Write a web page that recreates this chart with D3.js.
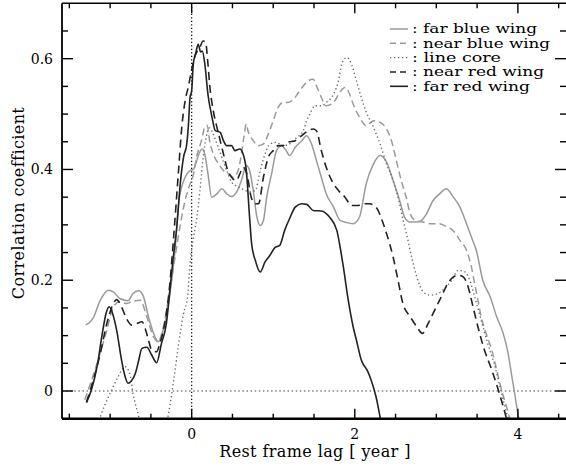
<!DOCTYPE html>
<html><head><meta charset="utf-8">
<script src="https://cdn.jsdelivr.net/npm/d3@7"></script>
<style>body{margin:0;background:#fff}svg{display:block}</style>
</head><body>
<script>
// ---- data ----
const farBlueLag = [-1.30,-1.21,-1.12,-1.02,-0.96,-0.88,-0.78,-0.72,-0.65,-0.59,-0.53,-0.45,-0.41,-0.35,-0.31,-0.245,-0.20,-0.16,-0.08,-0.02,0.02,0.06,0.10,0.13,0.16,0.20,0.245,0.31,0.37,0.43,0.49,0.55,0.61,0.67,0.71,0.755,0.80,0.84,0.88,0.92,0.98,1.04,1.10,1.16,1.20,1.27,1.35,1.41,1.47,1.53,1.59,1.65,1.74,1.82,1.90,1.98,2.06,2.14,2.23,2.31,2.39,2.47,2.55,2.61,2.68,2.76,2.82,2.88,2.96,3.04,3.12,3.21,3.29,3.37,3.43,3.49,3.57,3.66,3.74,3.82,3.88,3.92,3.96,4.00,4.02];
const farBlueR   = [0.119,0.131,0.164,0.182,0.179,0.167,0.163,0.176,0.181,0.170,0.134,0.098,0.089,0.110,0.134,0.200,0.260,0.340,0.386,0.398,0.400,0.415,0.432,0.437,0.428,0.392,0.350,0.356,0.365,0.356,0.351,0.359,0.380,0.407,0.398,0.362,0.314,0.299,0.308,0.350,0.392,0.434,0.443,0.434,0.425,0.440,0.452,0.461,0.446,0.416,0.386,0.356,0.332,0.308,0.304,0.302,0.315,0.374,0.410,0.425,0.413,0.380,0.344,0.314,0.305,0.305,0.308,0.320,0.344,0.356,0.365,0.350,0.332,0.302,0.278,0.254,0.200,0.170,0.134,0.104,0.068,0.032,-0.004,-0.040,-0.055];

const nearBlueLag = [-1.31,-1.16,-1.04,-0.96,-0.88,-0.80,-0.74,-0.63,-0.55,-0.47,-0.41,-0.33,-0.27,-0.20,-0.14,-0.08,-0.02,0.02,0.06,0.12,0.16,0.19,0.22,0.265,0.33,0.39,0.45,0.51,0.57,0.61,0.64,0.67,0.69,0.755,0.82,0.88,0.94,1.00,1.06,1.12,1.18,1.25,1.31,1.37,1.43,1.49,1.53,1.59,1.65,1.74,1.82,1.88,1.94,1.98,2.06,2.14,2.23,2.31,2.39,2.45,2.51,2.57,2.63,2.68,2.74,2.84,2.94,3.04,3.12,3.21,3.29,3.37,3.43,3.47,3.51,3.55,3.61,3.68,3.74,3.80,3.86,3.91];
const nearBlueR   = [-0.016,0.050,0.110,0.152,0.161,0.158,0.161,0.164,0.134,0.098,0.089,0.128,0.180,0.245,0.300,0.344,0.374,0.390,0.422,0.452,0.476,0.480,0.452,0.428,0.410,0.398,0.392,0.386,0.398,0.428,0.458,0.482,0.470,0.452,0.443,0.446,0.464,0.488,0.512,0.521,0.521,0.527,0.539,0.551,0.560,0.563,0.551,0.530,0.515,0.521,0.540,0.548,0.535,0.518,0.494,0.479,0.488,0.485,0.473,0.452,0.416,0.380,0.350,0.320,0.308,0.305,0.302,0.302,0.297,0.289,0.272,0.254,0.224,0.194,0.164,0.134,0.104,0.074,0.038,0.002,-0.028,-0.055];

const coreLag = [-1.20,-1.12,-1.00,-0.90,-0.82,-0.76,-0.72,-0.65,-0.60,-0.45,-0.34,-0.29,-0.22,-0.16,-0.10,-0.05,-0.02,0.02,0.06,0.10,0.14,0.18,0.22,0.26,0.31,0.37,0.43,0.49,0.55,0.62,0.70,0.78,0.84,0.90,0.96,1.04,1.12,1.20,1.29,1.37,1.41,1.45,1.51,1.59,1.65,1.74,1.80,1.84,1.90,1.96,2.02,2.08,2.14,2.23,2.31,2.39,2.47,2.54,2.59,2.64,2.70,2.76,2.84,2.92,3.02,3.10,3.19,3.27,3.35,3.41,3.47,3.55,3.63,3.72,3.78,3.84,3.89];
const coreR   = [-0.080,-0.046,-0.004,0.026,0.044,0.032,-0.004,-0.046,-0.080,-0.150,-0.080,-0.046,0.020,0.085,0.140,0.170,0.230,0.275,0.310,0.360,0.420,0.460,0.475,0.465,0.446,0.422,0.398,0.377,0.370,0.365,0.360,0.362,0.398,0.428,0.446,0.449,0.443,0.446,0.458,0.470,0.488,0.500,0.515,0.515,0.521,0.536,0.560,0.590,0.602,0.590,0.560,0.530,0.504,0.476,0.446,0.410,0.380,0.344,0.310,0.280,0.240,0.206,0.179,0.173,0.176,0.185,0.200,0.218,0.215,0.200,0.170,0.128,0.086,0.044,0.008,-0.028,-0.055];

const nearRedLag = [-1.29,-1.23,-1.12,-1.04,-0.96,-0.92,-0.86,-0.80,-0.735,-0.67,-0.61,-0.57,-0.53,-0.49,-0.43,-0.39,-0.33,-0.27,-0.22,-0.16,-0.12,-0.08,-0.04,0.00,0.04,0.10,0.14,0.17,0.20,0.22,0.265,0.31,0.35,0.39,0.43,0.49,0.55,0.59,0.63,0.68,0.73,0.78,0.82,0.88,0.94,1.00,1.06,1.12,1.18,1.27,1.35,1.43,1.49,1.53,1.59,1.65,1.74,1.80,1.88,1.96,2.04,2.10,2.18,2.27,2.33,2.39,2.47,2.53,2.59,2.68,2.76,2.83,2.90,2.98,3.06,3.14,3.21,3.27,3.33,3.39,3.45,3.51,3.59,3.68,3.76,3.82,3.87];
const nearRedR   = [-0.020,0.008,0.068,0.122,0.158,0.165,0.152,0.131,0.119,0.122,0.125,0.113,0.092,0.074,0.071,0.086,0.122,0.190,0.280,0.400,0.478,0.524,0.550,0.580,0.605,0.620,0.632,0.630,0.590,0.554,0.506,0.476,0.452,0.428,0.404,0.386,0.380,0.392,0.404,0.390,0.350,0.338,0.338,0.386,0.422,0.434,0.443,0.443,0.449,0.452,0.461,0.470,0.473,0.470,0.434,0.404,0.374,0.362,0.350,0.335,0.335,0.338,0.338,0.330,0.310,0.284,0.242,0.200,0.158,0.134,0.116,0.104,0.122,0.146,0.170,0.194,0.206,0.209,0.206,0.188,0.152,0.116,0.074,0.038,0.002,-0.028,-0.055];

const farRedLag = [-1.29,-1.23,-1.16,-1.10,-1.05,-1.01,-0.97,-0.92,-0.86,-0.82,-0.78,-0.74,-0.69,-0.65,-0.61,-0.55,-0.49,-0.43,-0.37,-0.31,-0.27,-0.23,-0.18,-0.14,-0.10,-0.06,-0.04,-0.02,0.00,0.02,0.05,0.08,0.11,0.13,0.16,0.20,0.25,0.29,0.35,0.39,0.43,0.49,0.53,0.59,0.63,0.67,0.71,0.735,0.78,0.84,0.90,0.96,1.02,1.08,1.14,1.20,1.27,1.35,1.41,1.49,1.59,1.69,1.78,1.82,1.86,1.92,1.98,2.02,2.08,2.16,2.20,2.26,2.32];
const farRedR   = [-0.021,0.002,0.044,0.100,0.140,0.152,0.140,0.110,0.056,0.028,0.014,0.018,0.032,0.055,0.077,0.079,0.065,0.051,0.086,0.122,0.177,0.236,0.300,0.374,0.422,0.446,0.480,0.530,0.542,0.590,0.610,0.626,0.612,0.614,0.592,0.535,0.494,0.470,0.467,0.452,0.443,0.443,0.434,0.437,0.428,0.398,0.314,0.266,0.236,0.215,0.233,0.245,0.259,0.263,0.290,0.311,0.332,0.338,0.337,0.326,0.325,0.314,0.290,0.260,0.224,0.164,0.116,0.092,0.056,0.035,0.020,-0.010,-0.055];

const seriesNames = [": far blue wing", ": near blue wing", ": line core", ": near red wing", ": far red wing"];
const xTickLabels = [0, 2, 4];
const yTickLabels = [0, 0.2, 0.4, 0.6];
const xLabel = "Rest frame lag [ year ]";
const yLabel = "Correlation coefficient";

// ---- drawing ----
const W = 566, H = 466;
const L = 62, R = 566, T = 3.3, B = 418.7;
const svg = d3.select("body").append("svg").attr("width", W).attr("height", H);
const x = d3.scaleLinear().domain([-1.59, 4.59]).range([L, R]);
const y = d3.scaleLinear().domain([-0.05, 0.7]).range([B, T]);
const font = "'DejaVu Serif', serif";

const styles = [
  {stroke: "#9a9a9a", dash: null, w: 1.5},
  {stroke: "#9a9a9a", dash: "7,4", w: 1.5},
  {stroke: "#6a6a6a", dash: "1.3,2.7", w: 1.4},
  {stroke: "#222", dash: "8,5", w: 1.6},
  {stroke: "#222", dash: null, w: 1.6}
];
const data = [
  [farBlueLag, farBlueR], [nearBlueLag, nearBlueR], [coreLag, coreR],
  [nearRedLag, nearRedR], [farRedLag, farRedR]
].map(([lx, ry]) => lx.map((v, i) => [v, ry[i]]));

svg.append("clipPath").attr("id", "clip").append("rect")
  .attr("x", L).attr("y", T).attr("width", R - L).attr("height", B - T);

// reference dotted lines
svg.append("line").attr("x1", x(0)).attr("x2", x(0)).attr("y1", T).attr("y2", B)
  .attr("stroke", "#000").attr("stroke-width", 1.2).attr("stroke-dasharray", "1.2,2.3");
svg.append("line").attr("x1", L).attr("x2", R).attr("y1", y(0)).attr("y2", y(0))
  .attr("stroke", "#444").attr("stroke-width", 1.2).attr("stroke-dasharray", "1.5,2.6");

const line = d3.line().x(d => x(d[0])).y(d => y(d[1])).curve(d3.curveMonotoneX);
const g = svg.append("g").attr("clip-path", "url(#clip)");
data.forEach((d, i) => {
  const s = styles[i];
  g.append("path").datum(d).attr("d", line).attr("fill", "none")
    .attr("stroke", s.stroke).attr("stroke-width", s.w)
    .attr("stroke-dasharray", s.dash).attr("stroke-linejoin", "round");
});

// axes frame (right edge falls at the picture's border)
const ax = svg.append("g").attr("stroke", "#000").attr("fill", "none");
ax.append("line").attr("x1", L).attr("x2", R).attr("y1", B).attr("y2", B).attr("stroke-width", 2.6);
ax.append("line").attr("x1", L).attr("x2", R).attr("y1", T).attr("y2", T).attr("stroke-width", 1.6);
ax.append("line").attr("x1", L).attr("x2", L).attr("y1", T).attr("y2", B).attr("stroke-width", 1.8);
ax.append("line").attr("x1", R + 1).attr("x2", R + 1).attr("y1", T).attr("y2", B).attr("stroke-width", 1.6);

// x ticks (minor every 0.5, major at labelled values)
const xt = d3.range(-1.5, 4.51, 0.5);
xt.forEach(v => {
  const major = xTickLabels.some(m => Math.abs(m - v) < 1e-6);
  const len = major ? 10 : 5;
  ax.append("line").attr("x1", x(v)).attr("x2", x(v)).attr("y1", B).attr("y2", B - len).attr("stroke-width", 1.4);
  ax.append("line").attr("x1", x(v)).attr("x2", x(v)).attr("y1", T).attr("y2", T + len).attr("stroke-width", 1.4);
});
const yt = d3.range(-0.05, 0.7, 0.05).map(v => +v.toFixed(2));
yt.forEach(v => {
  const major = yTickLabels.some(m => Math.abs(m - v) < 1e-6);
  const len = major ? 11 : 6;
  ax.append("line").attr("x1", L).attr("x2", L + len).attr("y1", y(v)).attr("y2", y(v)).attr("stroke-width", 1.4);
  ax.append("line").attr("x1", R).attr("x2", R - len).attr("y1", y(v)).attr("y2", y(v)).attr("stroke-width", 1.4);
});

// tick labels
svg.selectAll(".xl").data(xTickLabels).enter().append("text")
  .attr("x", d => x(d)).attr("y", 439).attr("text-anchor", "middle")
  .attr("font-family", font).attr("font-size", 14).text(d => d);
svg.selectAll(".yl").data(yTickLabels).enter().append("text")
  .attr("x", 53).attr("y", d => y(d) + 5).attr("text-anchor", "end")
  .attr("font-family", font).attr("font-size", 14).text(d => d);

// axis titles
svg.append("text").attr("x", 315).attr("y", 457).attr("text-anchor", "middle")
  .attr("font-family", font).attr("font-size", 16).attr("letter-spacing", 0.4).text(xLabel);
svg.append("text").attr("transform", "translate(24,203) rotate(-90)").attr("text-anchor", "middle")
  .attr("font-family", font).attr("font-size", 16).attr("letter-spacing", 0.4).text(yLabel);

// legend (text widened to match the reference's broad serif face)
const legY = [29, 43.3, 57.6, 72, 86.3];
const legW = [125, 138, 89, 132, 118];
seriesNames.forEach((n, i) => {
  const s = styles[i];
  svg.append("line").attr("x1", 390).attr("x2", 408).attr("y1", legY[i]).attr("y2", legY[i])
    .attr("stroke", s.stroke).attr("stroke-width", s.w)
    .attr("stroke-dasharray", i === 1 || i === 3 ? "6,4" : s.dash);
  svg.append("text").attr("x", 412).attr("y", legY[i] + 4.3).attr("font-family", font)
    .attr("font-size", 12.2).attr("textLength", legW[i]).attr("lengthAdjust", "spacingAndGlyphs")
    .text(n);
});
</script>
</body></html>
